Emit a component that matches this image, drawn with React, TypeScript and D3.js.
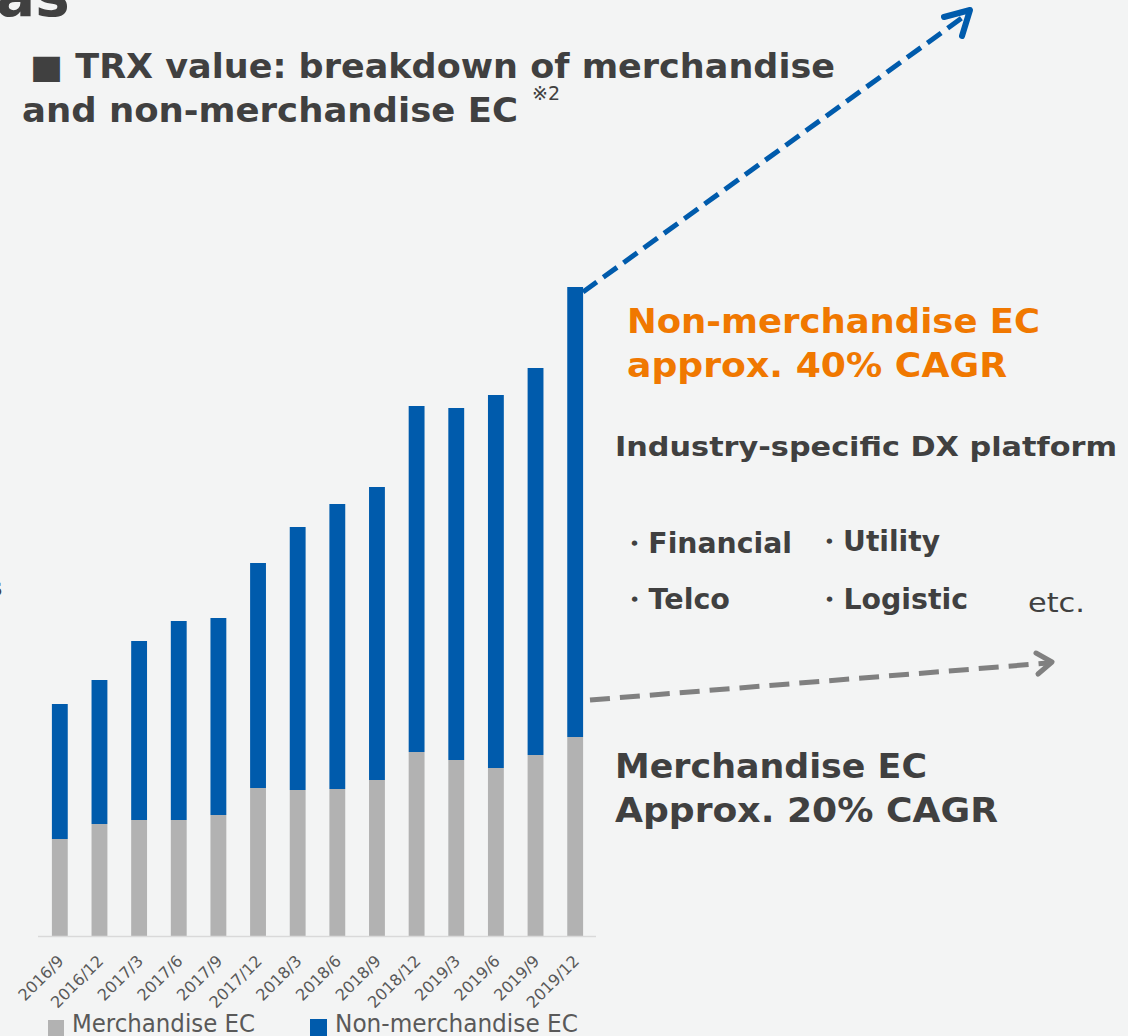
import React from "react";
import * as d3 from "d3";

const categories = ["2016/9","2016/12","2017/3","2017/6","2017/9","2017/12","2018/3","2018/6","2018/9","2018/12","2019/3","2019/6","2019/9","2019/12"];
const merchandise = [97,112,116,116,121,148,146,147,156,184,176,168,181,199];
const nonMerchandise = [135,144,179,199,197,225,263,285,293,346,352,373,387,450];
const legendLabels = ["Merchandise EC", "Non-merchandise EC"];

const W = 1128, H = 1036;
const BG = "#F3F4F4";
const BLUE = "#005BAC";
const GRAY = "#B2B2B2";
const DARK = "#404040";
const ORANGE = "#F07800";
const FONT = "'DejaVu Sans', Verdana, sans-serif";

export default function App() {
  const x = d3.scaleBand<string>().domain(categories).range([40, 595]).paddingInner(0.6).paddingOuter(0.3);
  const y = d3.scaleLinear().domain([0, 700]).range([936, 236]);
  const stacked = d3.stack<any>().keys(["m", "n"])(categories.map((c, i) => ({ c, m: merchandise[i], n: nonMerchandise[i] })));
  const colors = [GRAY, BLUE];

  return (
    <svg width={W} height={H} style={{ position: "fixed", left: 0, top: 0 }} fontFamily={FONT}>
      <rect width={W} height={H} fill={BG} />
      {/* partial heading */}
      <text x={-4} y={16} fontSize={58} fontWeight="bold" fill={DARK}>as</text>
      <text x={-12} y={596} fontSize={24} fontWeight="bold" fill={DARK}>s</text>
      {/* title */}
      <text x={30} y={78} fontSize={33} fontWeight="bold" fill={DARK} textLength={805} lengthAdjust="spacingAndGlyphs">■ TRX value: breakdown of merchandise</text>
      <text x={22} y={122} fontSize={33} fontWeight="bold" fill={DARK} textLength={496} lengthAdjust="spacingAndGlyphs">and non-merchandise EC</text>
      <text x={532} y={100} fontSize={19} fill={DARK}>※2</text>

      {/* bars */}
      {stacked.map((layer, li) => (
        <g key={li} fill={colors[li]}>
          {layer.map((d, i) => (
            <rect key={i} x={x(categories[i])} width={x.bandwidth()} y={y(d[1])} height={y(d[0]) - y(d[1])} />
          ))}
        </g>
      ))}
      <line x1={38} x2={596} y1={936.5} y2={936.5} stroke="#D9D9D9" strokeWidth={1.5} />
      {categories.map((c) => {
        const cx = (x(c) as number) + x.bandwidth() / 2 + 5;
        return (
          <text key={c} transform={`translate(${cx},962) rotate(-45)`} textAnchor="end" fontSize={16} fill="#595959">{c}</text>
        );
      })}

      {/* legend */}
      <rect x={48} y={1020} width={16} height={16} fill={GRAY} />
      <text x={72} y={1032} fontSize={24} fill="#595959" textLength={183} lengthAdjust="spacingAndGlyphs">{legendLabels[0]}</text>
      <rect x={310} y={1019} width={17} height={17} fill={BLUE} />
      <text x={335} y={1032} fontSize={24} fill="#595959" textLength={243} lengthAdjust="spacingAndGlyphs">{legendLabels[1]}</text>

      {/* arrows */}
      <line x1={583} y1={292} x2={966} y2={15} stroke={BLUE} strokeWidth={5} strokeDasharray="17,8" />
      <polyline points="944,17 970,10 962,36" fill="none" stroke={BLUE} strokeWidth={6} strokeLinecap="round" strokeLinejoin="round" />
      <line x1={590} y1={700} x2={1048} y2={663} stroke="#808080" strokeWidth={5} strokeDasharray="20,10" />
      <polyline points="1036,653 1052,662 1038,674" fill="none" stroke="#808080" strokeWidth={5} strokeLinecap="round" strokeLinejoin="round" />

      {/* annotations */}
      <text x={627} y={333} fontSize={33} fontWeight="bold" fill={ORANGE} textLength={413} lengthAdjust="spacingAndGlyphs">Non-merchandise EC</text>
      <text x={627} y={377} fontSize={33} fontWeight="bold" fill={ORANGE} textLength={380} lengthAdjust="spacingAndGlyphs">approx. 40% CAGR</text>
      <text x={615} y={456} fontSize={26} fontWeight="bold" fill={DARK} textLength={502} lengthAdjust="spacingAndGlyphs">Industry-specific DX platform</text>
      <text x={620} y={553} fontSize={28} fontWeight="bold" fill={DARK} textLength={172} lengthAdjust="spacingAndGlyphs">・Financial</text>
      <text x={815} y={551} fontSize={28} fontWeight="bold" fill={DARK} textLength={125} lengthAdjust="spacingAndGlyphs">・Utility</text>
      <text x={620} y={609} fontSize={28} fontWeight="bold" fill={DARK} textLength={110} lengthAdjust="spacingAndGlyphs">・Telco</text>
      <text x={815} y={609} fontSize={28} fontWeight="bold" fill={DARK} textLength={153} lengthAdjust="spacingAndGlyphs">・Logistic</text>
      <text x={1028} y={612} fontSize={27} fill={DARK} textLength={57} lengthAdjust="spacingAndGlyphs">etc.</text>
      <text x={615} y={778} fontSize={33} fontWeight="bold" fill={DARK} textLength={312} lengthAdjust="spacingAndGlyphs">Merchandise EC</text>
      <text x={615} y={822} fontSize={33} fontWeight="bold" fill={DARK} textLength={383} lengthAdjust="spacingAndGlyphs">Approx. 20% CAGR</text>
    </svg>
  );
}
